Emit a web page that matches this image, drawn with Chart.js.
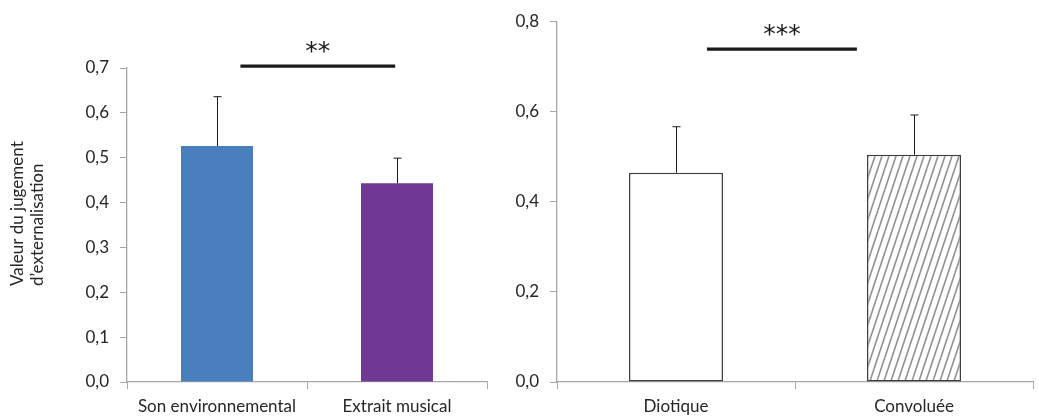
<!DOCTYPE html>
<html>
<head>
<meta charset="utf-8">
<script src="https://cdn.jsdelivr.net/npm/chart.js@4"></script>
<style>
  html, body { margin:0; padding:0; background:#fff; }
  #wrap { position:relative; width:1039px; height:418px; }
  #left { position:absolute; left:0; top:0; }
  #right { position:absolute; left:500px; top:0; }
</style>
</head>
<body>
<div id="wrap">
  <canvas id="left" width="500" height="418"></canvas>
  <canvas id="right" width="539" height="418"></canvas>
</div>
<script>
// chart data
const leftLabels = ['Son environnemental', 'Extrait musical'];
const leftMeans = [0.526, 0.443];
const leftErr = [0.110, 0.056];   // upper error bar only
const rightLabels = ['Diotique', 'Convoluée'];
const rightMeans = [0.464, 0.504];
const rightErr = [0.102, 0.088];
const yMax = [0.7, 0.8];
const yStep = [0.1, 0.2];
const sigText = ['**', '***'];
const sigLevel = [0.704, 0.738];    // y value of the bracket
const sigFrom = [0.13, 0.13];       // category units
const sigTo = [0.99, 0.76];
const yTitle = ['Valeur du jugement', 'd\u2019externalisation'];

const FONT = 'Lato';
const TXT = '#262626';
const AXIS = '#a6a6a6';

function fmt(v){ return Number(v).toFixed(1).replace('.', ','); }

// diagonal hatch for the "Convoluée" bar
function hatch(){
  const c = document.createElement('canvas');
  c.width = 7; c.height = 21;
  const g = c.getContext('2d');
  g.fillStyle = '#fff'; g.fillRect(0,0,7,21);
  g.strokeStyle = '#8f8f8f'; g.lineWidth = 1.6;
  for(let k=-1;k<=1;k++){
    g.beginPath(); g.moveTo(k*7, 21); g.lineTo(k*7+7, 0); g.stroke();
  }
  return g.createPattern(c, 'repeat');
}

// error bars + significance bracket
const extras = {
  id:'extras',
  afterDatasetsDraw(chart, args, opts){
    const ctx = chart.ctx, y = chart.scales.y, x = chart.scales.x;
    const meta = chart.getDatasetMeta(0);
    const vals = chart.data.datasets[0].data;
    ctx.save();
    ctx.strokeStyle = '#1a1a1a'; ctx.lineWidth = 1;
    meta.data.forEach((bar, i)=>{
      const px = Math.round(bar.x) + 0.5;
      const top = y.getPixelForValue(vals[i] + opts.err[i]);
      const base = y.getPixelForValue(vals[i]);
      ctx.beginPath();
      ctx.moveTo(px, base); ctx.lineTo(px, top);
      ctx.moveTo(px-4, top); ctx.lineTo(px+4, top);
      ctx.stroke();
    });
    const ly = y.getPixelForValue(opts.level);
    const x0 = x.getPixelForValue(0) + opts.from * (x.getPixelForValue(1) - x.getPixelForValue(0));
    const x1 = x.getPixelForValue(0) + opts.to * (x.getPixelForValue(1) - x.getPixelForValue(0));
    ctx.lineWidth = 3.2;
    ctx.beginPath(); ctx.moveTo(x0, ly); ctx.lineTo(x1, ly); ctx.stroke();
    ctx.fillStyle = '#1a1a1a';
    ctx.font = '25px "DejaVu Sans"';
    ctx.textAlign = 'center'; ctx.textBaseline = 'middle';
    ctx.fillText(opts.text, (x0+x1)/2, ly - 14);
    if(opts.title){
      ctx.fillStyle = TXT;
      ctx.font = '17px ' + FONT;
      ctx.textAlign = 'left';
      ctx.translate(0, 286);
      ctx.rotate(-Math.PI/2);
      ctx.fillText(opts.title[0], 0, 18);
      ctx.fillText(opts.title[1], 0, 38);
    }
    ctx.restore();
  }
};

function makeChart(id, labels, means, err, idx, bar, pad, yWidth){
  return new Chart(document.getElementById(id), {
    type:'bar',
    data:{ labels, datasets:[Object.assign({ data:means }, bar)] },
    options:{
      responsive:false, animation:false, devicePixelRatio:1,
      layout:{ padding:pad },
      plugins:{
        legend:{ display:false }, tooltip:{ enabled:false },
        extras:{ err, level:sigLevel[idx], from:sigFrom[idx], to:sigTo[idx], text:sigText[idx], title: idx===0 ? yTitle : null }
      },
      scales:{
        x:{
          grid:{ display:true, drawOnChartArea:false, tickLength:7, color:AXIS, offset:true },
          border:{ color:AXIS, width:1.3 },
          ticks:{ color:TXT, font:{ family:FONT, size:17 }, padding:7, maxRotation:0 },
          afterFit(s){ s.height = 36; }
        },
        y:{
          min:0, max:yMax[idx],
          grid:{ drawOnChartArea:false, tickLength:7, color:AXIS },
          border:{ color:AXIS, width:1.3 },
          ticks:{ stepSize:yStep[idx], color:TXT, font:{ family:FONT, size:17 }, padding:11, callback:v=>fmt(v) },
          afterFit(s){ s.width = yWidth; }
        }
      }
    },
    plugins:[extras]
  });
}

makeChart('left', leftLabels, leftMeans, leftErr, 0, {
  backgroundColor:['#4a7fbd', '#6f3894'],
  borderWidth:0, categoryPercentage:1, barPercentage:0.4
}, { left:0, right:13, top:68, bottom:0 }, 127);

makeChart('right', rightLabels, rightMeans, rightErr, 1, {
  backgroundColor:['#ffffff', hatch()],
  borderColor:'#404040', borderWidth:1.5, borderSkipped:false,
  categoryPercentage:1, barPercentage:0.395
}, { left:0, right:6, top:17, bottom:0 }, 57);
</script>
</body>
</html>
